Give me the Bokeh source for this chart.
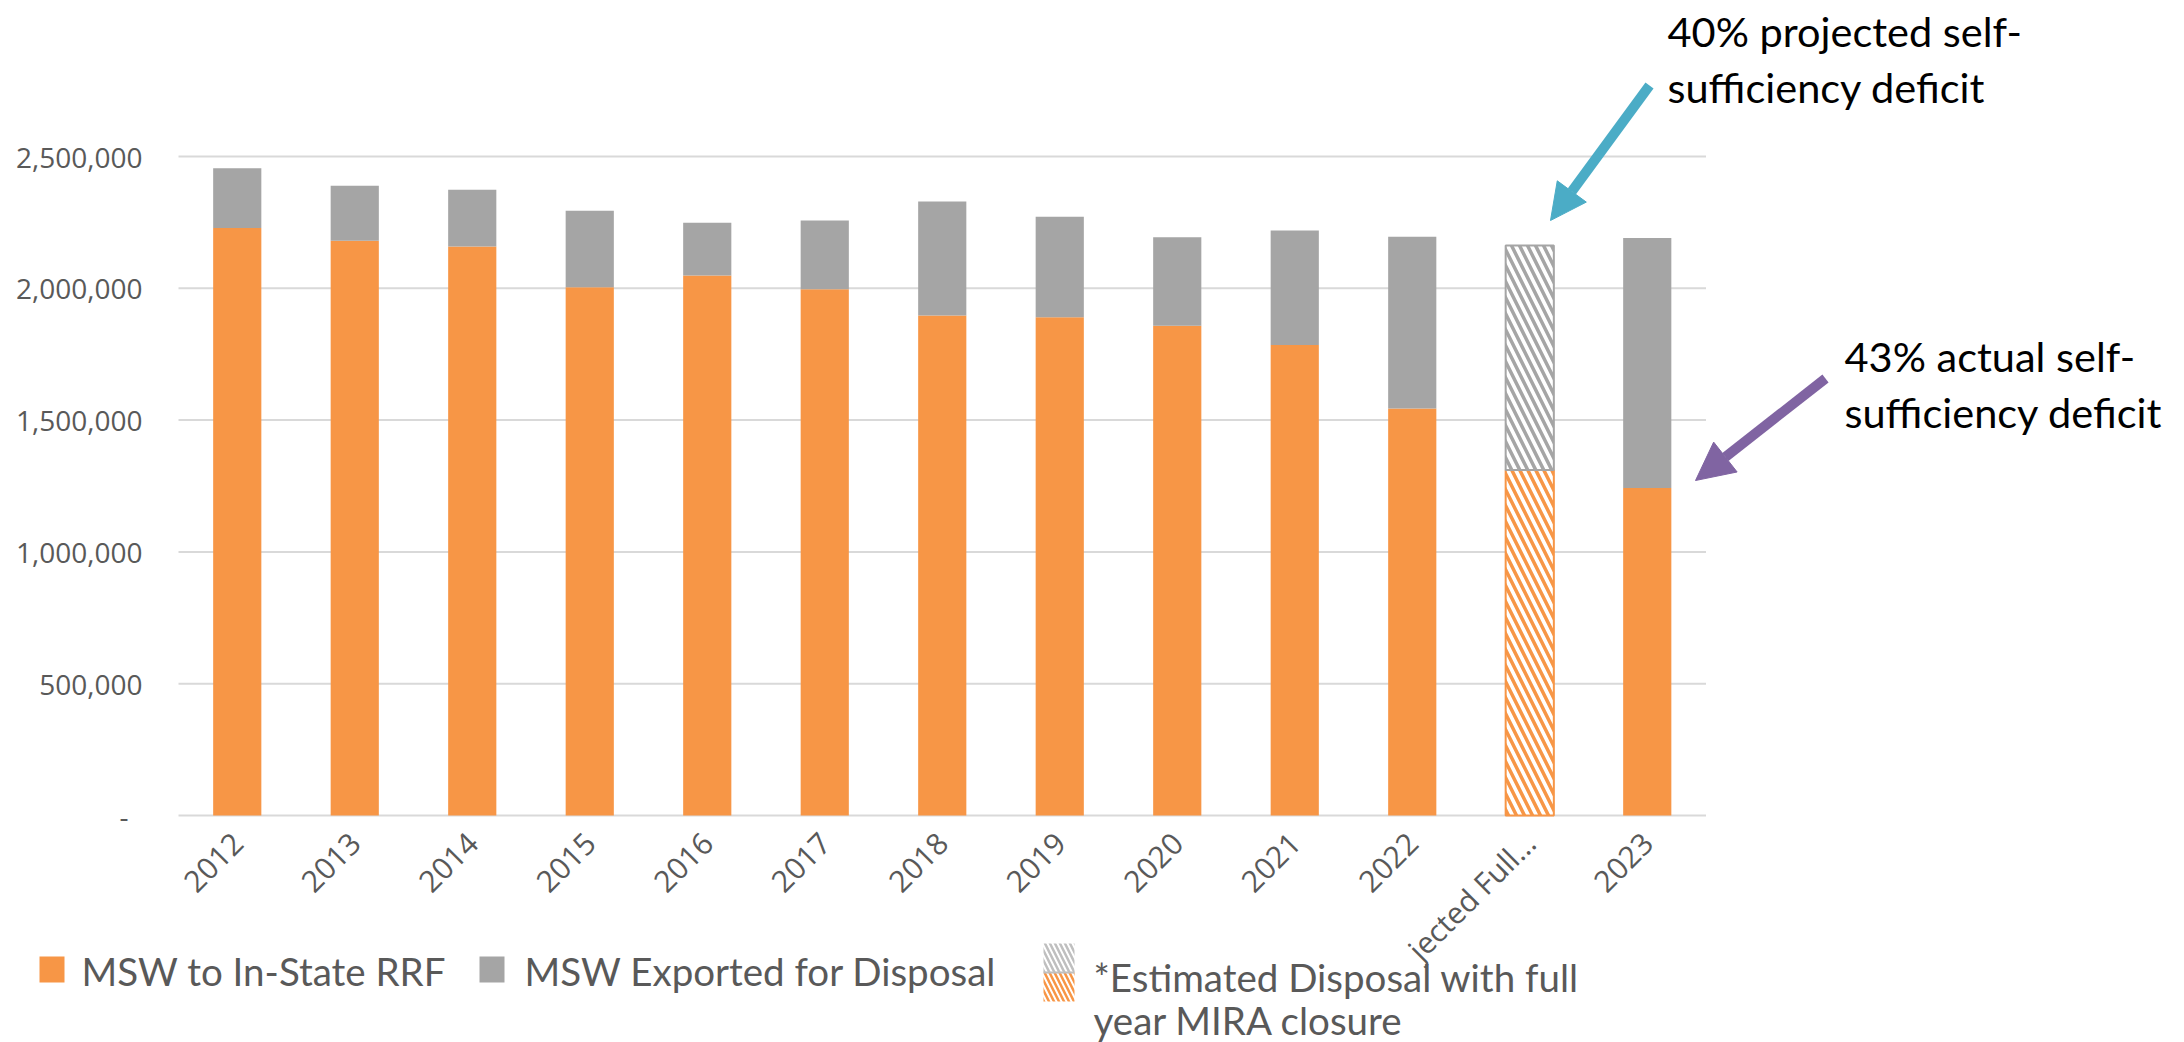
import math
from bokeh.plotting import figure
from bokeh.models import (Range1d, FixedTicker, LinearAxis, Arrow, NormalHead,
                          CustomJSTickFormatter, ColumnDataSource)
from bokeh.core.properties import value
from bokeh.embed import file_html
from bokeh.resources import INLINE

# ---------------- data ----------------
categories = ["2012", "2013", "2014", "2015", "2016", "2017", "2018", "2019",
              "2020", "2021", "2022", "Projected Full Year", "2023"]
category_labels = ["2012", "2013", "2014", "2015", "2016", "2017", "2018", "2019",
                   "2020", "2021", "2022", "jected Full\u2026", "2023"]
msw_in_state_rrf = [2229000, 2180000, 2159000, 2004000, 2049000, 1996000, 1897000,
                    1890000, 1858000, 1785000, 1544000, 1311000, 1242000]
msw_exported = [226000, 209000, 215000, 290000, 200000, 261000, 432000,
                381000, 336000, 434000, 652000, 851000, 949000]
is_estimate = [False] * 11 + [True, False]

y_ticks = [0, 500000, 1000000, 1500000, 2000000, 2500000]
y_tick_labels = ["-", "500,000", "1,000,000", "1,500,000", "2,000,000", "2,500,000"]

series_names = ["MSW to In-State RRF", "MSW Exported for Disposal"]
estimate_note = ["*Estimated Disposal with full", "year MIRA closure"]
callout_projected = ["40% projected self-", "sufficiency deficit"]
callout_actual = ["43% actual self-", "sufficiency deficit"]

# ---------------- styles / layout ----------------
ORANGE = "#F79646"
GRAY = "#A5A5A5"
GRID = "#D9D9D9"
TEAL = "#4BACC6"
PURPLE = "#8064A2"
TXT = "#595959"

W, H = 2184, 1042
MARGIN = 0
X0_PAGE = 178.0          # page x of category axis start
CAT_PX = 117.5           # pixels per category
Y0_PAGE = 815.0          # page y of value 0
UNIT_PER_PX = 2_500_000 / 659.0
TEXT_DY = -12            # correction of rendered text baseline


def xd(px):
    return (px - X0_PAGE) / CAT_PX


def yd(py):
    return (Y0_PAGE - py) * UNIT_PER_PX


def yt(py):
    return yd(py + TEXT_DY)


p = figure(width=W, height=H,
           x_range=Range1d(xd(MARGIN), xd(MARGIN + W)),
           y_range=Range1d(yd(MARGIN + H), yd(MARGIN)),
           x_axis_type=None, y_axis_type=None,
           toolbar_location=None, output_backend="svg",
           min_border=0, outline_line_color=None,
           background_fill_color="white", border_fill_color="white")

n = len(categories)
xs = [i + 0.5 for i in range(n)]
totals = [a + b for a, b in zip(msw_in_state_rrf, msw_exported)]

# gridlines (limited to the category span)
p.segment(x0=[0] * len(y_ticks), x1=[n] * len(y_ticks), y0=y_ticks, y1=y_ticks,
          line_color=GRID, line_width=2)

solid = ColumnDataSource(dict(
    x=[xs[i] for i in range(n) if not is_estimate[i]],
    rrf=[msw_in_state_rrf[i] for i in range(n) if not is_estimate[i]],
    tot=[totals[i] for i in range(n) if not is_estimate[i]],
))
est = ColumnDataSource(dict(
    x=[xs[i] for i in range(n) if is_estimate[i]],
    rrf=[msw_in_state_rrf[i] for i in range(n) if is_estimate[i]],
    tot=[totals[i] for i in range(n) if is_estimate[i]],
))

BW = 0.41
p.vbar(x="x", width=BW, bottom=0, top="rrf", source=solid, fill_color=ORANGE, line_color=None)
p.vbar(x="x", width=BW, bottom="rrf", top="tot", source=solid, fill_color=GRAY, line_color=None)

p.vbar(x="x", width=BW, bottom=0, top="rrf", source=est, fill_color="white",
       line_color=ORANGE, line_width=2, hatch_pattern="\\", hatch_color=ORANGE,
       hatch_weight=3.5, hatch_scale=16)
p.vbar(x="x", width=BW, bottom="rrf", top="tot", source=est, fill_color="white",
       line_color=GRAY, line_width=2, hatch_pattern="\\", hatch_color=GRAY,
       hatch_weight=3.5, hatch_scale=16)

# axes placed at data 0
yaxis = LinearAxis(
    fixed_location=0, ticker=FixedTicker(ticks=y_ticks),
    formatter=CustomJSTickFormatter(args=dict(tick_values=y_ticks, tick_labels=y_tick_labels), code="""
        const i = tick_values.indexOf(tick);
        let s = i >= 0 ? tick_labels[i] : "";
        if (s == "-") s += "\\u2002";
        return s;
    """),
    axis_line_color=None, major_tick_line_color=None, minor_tick_line_color=None,
    major_tick_in=0, major_tick_out=0, minor_tick_in=0, minor_tick_out=0,
    major_label_standoff=36, major_label_text_font="Open Sans",
    major_label_text_font_size="28px", major_label_text_color=TXT)
p.add_layout(yaxis, "left")

xaxis = LinearAxis(
    fixed_location=0, ticker=FixedTicker(ticks=xs),
    formatter=CustomJSTickFormatter(args=dict(cat_labels=category_labels),
                                    code="const s = cat_labels[Math.round(tick - 0.5)]; return s == null ? '' : s;"),
    major_label_orientation=math.pi / 4,
    axis_line_color=None, major_tick_line_color=None, minor_tick_line_color=None,
    major_tick_in=0, major_tick_out=0, minor_tick_in=0, minor_tick_out=0,
    major_label_standoff=22, major_label_text_font="Open Sans",
    major_label_text_font_size="30px", major_label_text_color=TXT)
p.add_layout(xaxis, "below")

# legend (drawn manually)
LEG_FONT = "38.5px"
p.quad(left=[xd(39)], right=[xd(64)], top=[yd(956)], bottom=[yd(982)], fill_color=ORANGE, line_color=None)
p.quad(left=[xd(479)], right=[xd(504)], top=[yd(956)], bottom=[yd(982)], fill_color=GRAY, line_color=None)
p.text(x=[xd(81), xd(524)], y=[yt(982), yt(982)], text=series_names,
       text_font=value("Lato"), text_font_size=LEG_FONT, text_color=TXT,
       text_baseline="alphabetic", text_align="left")

p.quad(left=[xd(1043)], right=[xd(1074)], top=[yd(943)], bottom=[yd(972)], fill_color="white",
       line_color=None, hatch_pattern="\\", hatch_color="#BFBFBF", hatch_weight=2.5, hatch_scale=10)
p.quad(left=[xd(1043)], right=[xd(1074)], top=[yd(972)], bottom=[yd(1001)], fill_color="white",
       line_color=None, hatch_pattern="\\", hatch_color=ORANGE, hatch_weight=2.5, hatch_scale=10)
p.segment(x0=[xd(1043)], x1=[xd(1074)], y0=[yd(972)], y1=[yd(972)], line_color="#BFBFBF", line_width=2)
p.text(x=[xd(1093), xd(1093)], y=[yt(988), yt(1031)], text=estimate_note,
       text_font=value("Lato"), text_font_size=LEG_FONT, text_color=TXT,
       text_baseline="alphabetic", text_align="left")

# callouts
CALL_FONT = "41.5px"
p.text(x=[xd(1667), xd(1667)], y=[yt(42), yt(98)], text=callout_projected,
       text_font=value("Lato"), text_font_size=CALL_FONT, text_color="black",
       text_baseline="alphabetic", text_align="left")
p.text(x=[xd(1844), xd(1844)], y=[yt(367), yt(423)], text=callout_actual,
       text_font=value("Lato"), text_font_size=CALL_FONT, text_color="black",
       text_baseline="alphabetic", text_align="left")

p.add_layout(Arrow(x_start=xd(1649), y_start=yd(85), x_end=xd(1550), y_end=yd(220),
                   line_color=TEAL, line_width=10,
                   end=NormalHead(size=36, fill_color=TEAL, line_color=TEAL, line_width=1)))
p.add_layout(Arrow(x_start=xd(1825), y_start=yd(378), x_end=xd(1695), y_end=yd(480),
                   line_color=PURPLE, line_width=10,
                   end=NormalHead(size=38, fill_color=PURPLE, line_color=PURPLE, line_width=1)))

open("out.html", "w").write(file_html(p, INLINE))
